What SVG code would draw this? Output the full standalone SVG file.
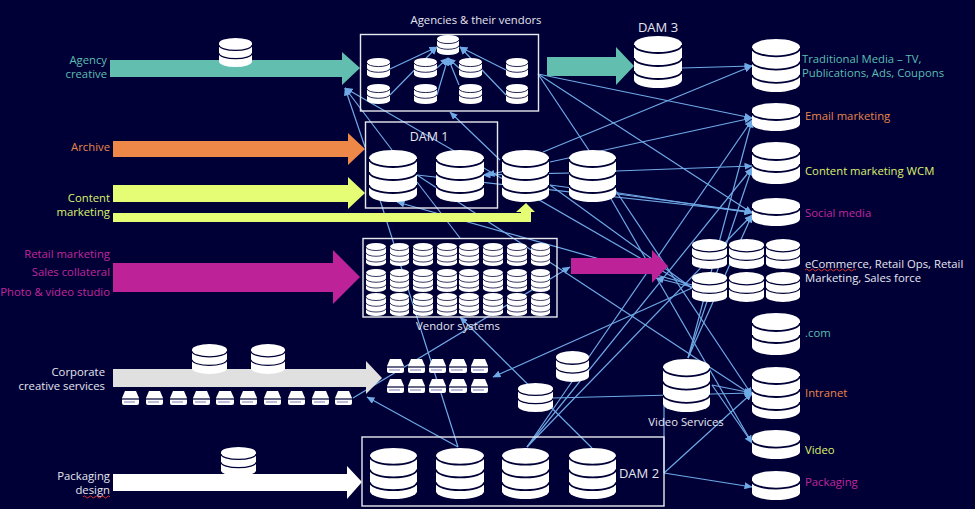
<svg xmlns="http://www.w3.org/2000/svg" width="975" height="509" viewBox="0 0 975 509">
<style>
text{font-family:"Open Sans","Noto Sans",sans-serif;font-size:11.3px;dominant-baseline:central;transform:translateY(-0.8px)}
.e{text-anchor:end}
.w{fill:#e6e6ee}.t{fill:#5dbfb0}.o{fill:#e8864a}.y{fill:#ddf26b}.m{fill:#c0279c}
.box{fill:none;stroke:#e8e8f0;stroke-width:1.4}
.c line{stroke:#6fa9e6;stroke-width:1.2}
.a{marker-end:url(#h)}
.b{fill:#fff}.d{fill:none;stroke:#000037;stroke-width:1.8}
.sq{fill:none;stroke:#d8322c;stroke-width:1}
</style>
<defs>
<marker id="h" markerUnits="userSpaceOnUse" markerWidth="8" markerHeight="7" refX="7.500" refY="3.500" orient="auto"><path d="M0 0L8 3.500L0 7Z" fill="#6fa9e6"/></marker>
<symbol id="db3" viewBox="0 0 48 52" preserveAspectRatio="none"><path class="b" d="M0 8A24 8 0 0 1 48 8V44A24 8 0 0 1 0 44Z"/><path class="d" d="M0 9A24 8 0 0 0 48 9M0 22A24 8 0 0 0 48 22M0 35A24 8 0 0 0 48 35"/></symbol>
<symbol id="db2" viewBox="0 0 48 42" preserveAspectRatio="none"><path class="b" d="M0 8A24 8 0 0 1 48 8V34A24 8 0 0 1 0 34Z"/><path class="d" d="M0 10A24 8 0 0 0 48 10M0 22A24 8 0 0 0 48 22"/></symbol>
<symbol id="db1" viewBox="0 0 48 30" preserveAspectRatio="none"><path class="b" d="M0 8A24 7 0 0 1 48 8V22A24 7 0 0 1 0 22Z"/><path class="d" d="M0 11A24 7 0 0 0 48 11"/></symbol>
<symbol id="dr" viewBox="0 0 17 14" preserveAspectRatio="none"><path class="b" d="M3 0H14L17 7V12A2 2 0 0 1 15 14H2A2 2 0 0 1 0 12V7Z"/><path d="M0 8H17" stroke="#000037" stroke-width="1.2"/><path d="M2 11H13" stroke="#9090c0" stroke-width="1.2"/></symbol>
</defs>
<rect width="975" height="509" fill="#000037"/>
<g id="connectors" class="c">
<line class="a" x1="390" y1="69" x2="437" y2="47"/><line class="a" x1="390" y1="95" x2="437" y2="47"/>
<line class="a" x1="437" y1="68" x2="448" y2="58"/><line class="a" x1="437" y1="95" x2="448" y2="58"/>
<line class="a" x1="459" y1="85" x2="448" y2="58"/><line class="a" x1="459" y1="68" x2="448" y2="58"/>
<line class="a" x1="506" y1="70" x2="460" y2="47"/><line class="a" x1="506" y1="95" x2="460" y2="47"/>
<line class="a" x1="392" y1="150" x2="345" y2="88"/><line class="a" x1="365" y1="147" x2="345" y2="88"/>
<line class="a" x1="692" y1="288" x2="345" y2="88"/><line class="a" x1="500" y1="160" x2="450" y2="112"/>
<line x1="538" y1="74" x2="752" y2="118" class="a"/><line x1="538" y1="74" x2="752" y2="213" class="a"/>
<line x1="538" y1="74" x2="752" y2="395" class="a"/>
<line x1="682" y1="68" x2="752" y2="66" class="a"/><line x1="543" y1="152" x2="752" y2="66" class="a"/>
<line x1="550" y1="162" x2="752" y2="118" class="a"/><line x1="527" y1="447" x2="752" y2="120" class="a"/>
<line x1="688" y1="358" x2="752" y2="120" class="a"/>
<line x1="616" y1="171" x2="752" y2="166" class="a"/><line x1="527" y1="447" x2="752" y2="168" class="a"/>
<line x1="688" y1="358" x2="752" y2="168" class="a"/>
<line x1="417" y1="175" x2="752" y2="212" class="a"/><line x1="612" y1="192" x2="752" y2="213" class="a"/>
<line x1="527" y1="447" x2="752" y2="215" class="a"/><line x1="688" y1="358" x2="752" y2="215" class="a"/>
<line x1="417" y1="175" x2="752" y2="395" class="a"/><line x1="417" y1="182" x2="460" y2="238"/>
<line x1="380" y1="200" x2="458" y2="447"/><line x1="458" y1="447" x2="367" y2="397" class="a"/>
<line x1="692" y1="285" x2="397" y2="202" class="a"/>
<line x1="616" y1="172" x2="483" y2="175" class="a"/><line x1="549" y1="162" x2="487" y2="175" class="a"/>
<line x1="550" y1="185" x2="692" y2="288"/><line x1="550" y1="185" x2="752" y2="212"/>
<line x1="610" y1="197" x2="752" y2="443" class="a"/>
<line x1="692" y1="287" x2="656" y2="278" class="a"/>
<line x1="353" y1="398" x2="570" y2="267" class="a"/><line x1="692" y1="288" x2="493" y2="377" class="a"/>
<line x1="592" y1="448" x2="460" y2="317" class="a"/>
<line x1="553" y1="398" x2="752" y2="393" class="a"/><line x1="712" y1="385" x2="752" y2="393" class="a"/>
<line x1="712" y1="385" x2="752" y2="443" class="a"/><line x1="664" y1="473" x2="752" y2="393" class="a"/>
<line x1="664" y1="473" x2="752" y2="487" class="a"/><line x1="664" y1="396" x2="664" y2="473"/>
</g>
<g id="arrow-agency"><path fill="#62bfb0" d="M110 60H342V52L360 68L342 85V77H110Z"/></g>
<g id="arrow-dam3"><path fill="#62bfb0" d="M547 57H616V47L634 66L616 85V76H547Z"/></g>
<g id="arrow-archive"><path fill="#ee8848" d="M113 141H348V133L365 149L348 165V157H113Z"/></g>
<g id="arrow-content"><path fill="#e5fd75" d="M113 185H348V177L365 193L348 209V202H113Z"/></g>
<g id="arrow-content-2"><path fill="#e5fd75" d="M113 213H521V212H516L526 203L535 212H531V222H113Z"/></g>
<g id="arrow-retail"><path fill="#bd2299" d="M113 263H333V250L360 277L333 304V292H113Z"/></g>
<g id="arrow-vendor"><path fill="#bd2299" d="M571 258H652V250L668 266L652 283V274H571Z"/></g>
<g id="arrow-corporate"><path fill="#e0e0e0" d="M113 369H366V361L382 378L366 394V387H113Z"/></g>
<g id="arrow-packaging"><path fill="#fff" d="M113 474H347V466L362 482L347 499V491H113Z"/></g>
<g id="agencies"><rect class="box" x="360.500" y="34.500" width="178" height="76.500"/>
<use href="#db2" x="437" y="35" width="22" height="20"/>
<use href="#db2" x="367" y="58" width="23" height="20"/><use href="#db2" x="414" y="58" width="23" height="20"/><use href="#db2" x="459" y="58" width="23" height="20"/><use href="#db2" x="506" y="58" width="22" height="20"/>
<use href="#db2" x="367" y="84" width="23" height="20"/><use href="#db2" x="414" y="84" width="23" height="20"/><use href="#db2" x="459" y="84" width="23" height="20"/><use href="#db2" x="506" y="84" width="22" height="20"/>
<text class="w" x="476" y="20" text-anchor="middle">Agencies &amp; their vendors</text></g>
<g id="dam1"><rect class="box" x="365.500" y="122" width="132" height="86"/>
<use href="#db3" x="369" y="150" width="48" height="52"/><use href="#db3" x="436" y="150" width="48" height="52"/>
<text class="w" x="429" y="137" text-anchor="middle" style="font-size:12.500px">DAM 1</text></g>
<g id="dam1-b"><use href="#db3" x="502" y="150" width="47" height="52"/></g>
<g id="dam1-c"><use href="#db3" x="569" y="150" width="47" height="52"/></g>
<g id="dam3"><use href="#db3" x="634" y="36" width="48" height="52"/><text class="w" x="658" y="28" text-anchor="middle" style="font-size:13px">DAM 3</text></g>
<g id="db-agency"><use href="#db2" x="219" y="38" width="33" height="29"/></g>
<g id="vendor-systems"><rect class="box" x="363" y="238.500" width="194" height="78.500"/>
<use href="#db3" x="366" y="243" width="20" height="23"/><use href="#db3" x="390" y="243" width="19" height="23"/><use href="#db3" x="413" y="243" width="20" height="23"/><use href="#db3" x="437" y="243" width="20" height="23"/><use href="#db3" x="459" y="243" width="20" height="23"/><use href="#db3" x="483" y="243" width="20" height="23"/><use href="#db3" x="507" y="243" width="20" height="23"/><use href="#db3" x="531" y="243" width="19" height="23"/>
<use href="#db3" x="366" y="269" width="20" height="23"/><use href="#db3" x="390" y="269" width="19" height="23"/><use href="#db3" x="413" y="269" width="20" height="23"/><use href="#db3" x="437" y="269" width="20" height="23"/><use href="#db3" x="459" y="269" width="20" height="23"/><use href="#db3" x="483" y="269" width="20" height="23"/><use href="#db3" x="507" y="269" width="20" height="23"/><use href="#db3" x="531" y="269" width="19" height="23"/>
<use href="#db3" x="366" y="293" width="20" height="23"/><use href="#db3" x="390" y="293" width="19" height="23"/><use href="#db3" x="413" y="293" width="20" height="23"/><use href="#db3" x="437" y="293" width="20" height="23"/><use href="#db3" x="459" y="293" width="20" height="23"/><use href="#db3" x="483" y="293" width="20" height="23"/><use href="#db3" x="507" y="293" width="20" height="23"/><use href="#db3" x="531" y="293" width="19" height="23"/>
<text class="w" x="458" y="326.500" text-anchor="middle">Vendor systems</text></g>
<g id="corporate-dbs"><use href="#db2" x="192" y="344" width="35" height="30"/><use href="#db2" x="251" y="344" width="34" height="30"/></g>
<g id="corporate-drives"><use href="#dr" x="122" y="391" width="17" height="14"/><use href="#dr" x="146" y="391" width="17" height="14"/><use href="#dr" x="170" y="391" width="17" height="14"/><use href="#dr" x="193" y="391" width="17" height="14"/><use href="#dr" x="216" y="391" width="18" height="14"/><use href="#dr" x="240" y="391" width="17" height="14"/><use href="#dr" x="264" y="391" width="17" height="14"/><use href="#dr" x="288" y="391" width="17" height="14"/><use href="#dr" x="312" y="391" width="17" height="14"/><use href="#dr" x="335" y="391" width="17" height="14"/></g>
<g id="drive-grid"><use href="#dr" x="387" y="359" width="17" height="14"/><use href="#dr" x="408" y="359" width="17" height="14"/><use href="#dr" x="429" y="359" width="17" height="14"/><use href="#dr" x="449" y="359" width="18" height="14"/><use href="#dr" x="471" y="359" width="17" height="14"/>
<use href="#dr" x="387" y="379" width="17" height="14"/><use href="#dr" x="408" y="379" width="17" height="14"/><use href="#dr" x="429" y="379" width="17" height="14"/><use href="#dr" x="449" y="379" width="18" height="14"/><use href="#dr" x="471" y="379" width="17" height="14"/></g>
<g id="db-mid-a"><use href="#db2" x="556" y="351" width="33" height="31"/></g>
<g id="db-mid-b"><use href="#db2" x="518" y="383" width="35" height="29"/></g>
<g id="video-services"><use href="#db3" x="663" y="359" width="47" height="53"/><text class="w" x="686" y="422.500" text-anchor="middle">Video Services</text></g>
<g id="dam2"><rect class="box" x="362" y="437" width="302" height="69"/>
<use href="#db3" x="370" y="448" width="47" height="51"/><use href="#db3" x="436" y="448" width="48" height="51"/><use href="#db3" x="502" y="448" width="47" height="51"/><use href="#db3" x="569" y="448" width="47" height="51"/>
<text class="w" x="639" y="474" text-anchor="middle" style="font-size:13px">DAM 2</text></g>
<g id="db-packaging"><use href="#db2" x="221" y="447" width="35" height="29"/></g>
<g id="traditional"><use href="#db3" x="752" y="39" width="48" height="53"/><text class="t" x="802" y="59">Traditional Media – TV,</text><text class="t" x="802" y="73">Publications, Ads, Coupons</text></g>
<g id="email"><use href="#db1" x="752" y="102" width="48" height="30"/><text class="o" x="805" y="116">Email marketing</text></g>
<g id="content-wcm"><use href="#db2" x="752" y="142" width="48" height="42"/><text class="y" x="805" y="171">Content marketing WCM</text></g>
<g id="social"><use href="#db1" x="752" y="197" width="48" height="30"/><text class="m" x="805" y="213">Social media</text></g>
<g id="ecommerce"><use href="#db2" x="692" y="239" width="35" height="30"/><use href="#db2" x="729" y="239" width="35" height="30"/><use href="#db2" x="766" y="239" width="34" height="30"/><use href="#db2" x="692" y="272" width="35" height="30"/><use href="#db2" x="729" y="272" width="35" height="30"/><use href="#db2" x="766" y="272" width="34" height="30"/>
<text class="w" x="805" y="264">eCommerce, Retail Ops, Retail</text><text class="w" x="805" y="278">Marketing, Sales force</text>
<path class="sq" d="M805 270q1.500-2 3 0t3 0t3 0t3 0t3 0t3 0t3 0t3 0t3 0t3 0t3 0t3 0t3 0t3 0t3 0t3 0t3 0"/></g>
<g id="dotcom"><use href="#db2" x="752" y="313" width="48" height="42"/><text class="t" x="805" y="333">.com</text></g>
<g id="intranet"><use href="#db3" x="752" y="367" width="48" height="52"/><text class="o" x="805" y="393">Intranet</text></g>
<g id="video"><use href="#db1" x="752" y="429" width="48" height="31"/><text class="y" x="805" y="450">Video</text></g>
<g id="packaging"><use href="#db1" x="752" y="470" width="48" height="31"/><text class="m" x="805" y="482">Packaging</text></g>
<g id="source-labels">
<text class="t e" x="107" y="60.500">Agency</text><text class="t e" x="107" y="74">creative</text>
<text class="o e" x="110" y="147.500">Archive</text>
<text class="y e" x="110" y="198">Content</text><text class="y e" x="110" y="212">marketing</text>
<text class="m e" x="110" y="254.500">Retail marketing</text><text class="m e" x="110" y="272.500">Sales collateral</text><text class="m e" x="110" y="292">Photo &amp; video studio</text>
<text class="w e" x="105" y="372.500">Corporate</text><text class="w e" x="105" y="386">creative services</text>
<text class="w e" x="110" y="476">Packaging</text><text class="w e" x="110" y="490">design</text>
<path class="sq" d="M83 497q1.500-2 3 0t3 0t3 0t3 0t3 0t3 0t3 0t3 0t3 0"/></g>
</svg>
